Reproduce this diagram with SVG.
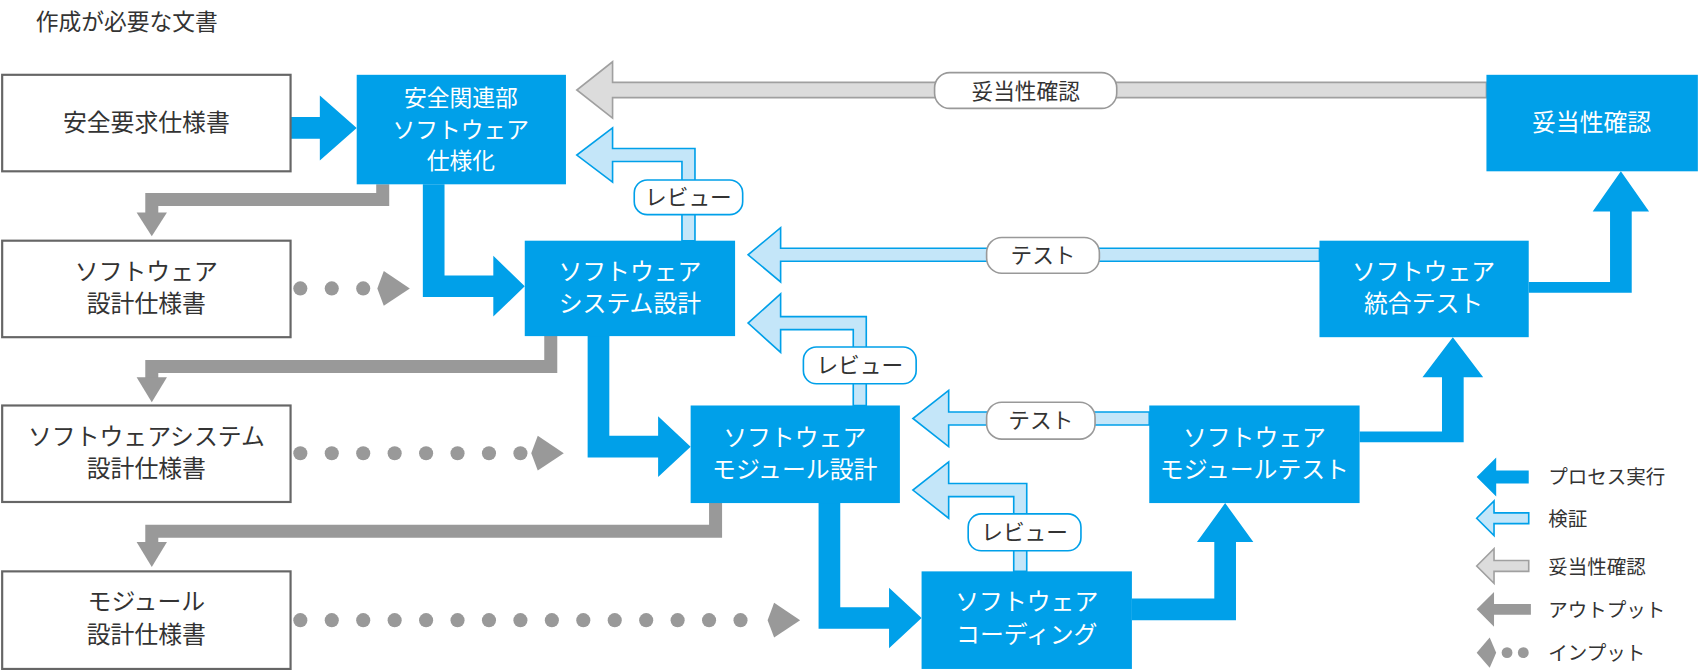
<svg xmlns="http://www.w3.org/2000/svg" width="1700" height="670" viewBox="0 0 1700 670">
<style>
text{font-family:"Noto Sans CJK JP","Noto Sans",sans-serif;text-anchor:middle}
.doc{fill:#fff;stroke:#666;stroke-width:2}
.dt{fill:#333;font-size:22px}
.pr{fill:#00A0E9}
.pt{fill:#fff;font-size:22px}
.proc{fill:#00A0E9}
.ver{fill:#C4E6F9;stroke:#00A0E9;stroke-width:1.5}
.val{fill:#DCDCDC;stroke:#A0A0A0;stroke-width:1.5}
.out{fill:none;stroke:#999;stroke-width:12}
.oh{fill:#999}
.lb{fill:#fff;stroke-width:1.5}
.lt{fill:#333;font-size:20px}
.lg{fill:#333;font-size:18px;text-anchor:start}
</style>
<rect width="1700" height="670" fill="#fff"/>
<g transform="scale(1.0842)">
<text x="33" y="28" style="text-anchor:start;font-size:21px;fill:#333">作成が必要な文書</text>
<g id="connectors">
<polygon class="proc" points="268,108 295,108 295,88 329,118 295,148 295,128 268,128"/>
<polygon class="proc" points="390,170 410,170 410,254 455,254 455,236 484,264 455,292 455,274 390,274"/>
<polygon class="proc" points="542,310 562,310 562,402 607,402 607,384 637,412 607,440 607,422 542,422"/>
<polygon class="proc" points="755,464 775,464 775,560 820,560 820,542 850,570 820,598 820,580 755,580"/>
<polygon class="proc" points="1044,552 1120,552 1120,500 1104,500 1130,464 1156,500 1140,500 1140,572 1044,572"/>
<polygon class="proc" points="1254,398 1330,398 1330,348 1312,348 1340,311 1368,348 1350,348 1350,408 1254,408"/>
<polygon class="proc" points="1410,260 1485,260 1485,195 1469,195 1495,158 1521,195 1505,195 1505,270 1410,270"/>
<polyline class="out" points="353,170 353,184 140,184 140,198"/><polygon class="oh" points="126,196 154,196 140,218"/>
<polyline class="out" points="508,310 508,338 140,338 140,350"/><polygon class="oh" points="126,348 154,348 140,371"/>
<polyline class="out" points="660,464 660,490 140,490 140,502"/><polygon class="oh" points="126,500 154,500 140,523"/>
<g class="oh">
<circle cx="277" cy="266" r="6.5"/><circle cx="306" cy="266" r="6.5"/><circle cx="335" cy="266" r="6.5"/><polygon points="354,250 378,266 354,282 348,266"/>
<circle cx="277" cy="418" r="6.5"/><circle cx="306" cy="418" r="6.5"/><circle cx="335" cy="418" r="6.5"/><circle cx="364" cy="418" r="6.5"/><circle cx="393" cy="418" r="6.5"/><circle cx="422" cy="418" r="6.5"/><circle cx="451" cy="418" r="6.5"/><circle cx="480" cy="418" r="6.5"/><polygon points="496,402 520,418 496,434 490,418"/>
<circle cx="277" cy="572" r="6.5"/><circle cx="306" cy="572" r="6.5"/><circle cx="335" cy="572" r="6.5"/><circle cx="364" cy="572" r="6.5"/><circle cx="393" cy="572" r="6.5"/><circle cx="422" cy="572" r="6.5"/><circle cx="451" cy="572" r="6.5"/><circle cx="480" cy="572" r="6.5"/><circle cx="509" cy="572" r="6.5"/><circle cx="538" cy="572" r="6.5"/><circle cx="567" cy="572" r="6.5"/><circle cx="596" cy="572" r="6.5"/><circle cx="625" cy="572" r="6.5"/><circle cx="654" cy="572" r="6.5"/><circle cx="683" cy="572" r="6.5"/><polygon points="714,556 738,572 714,588 708,572"/>
</g>
<polygon class="val" points="1371,76 565,76 565,57 532,83 565,109 565,90 1371,90"/>
<polygon class="ver" points="629,222 629,149 565,149 565,168 532,143 565,118 565,137 641,137 641,222"/>
<polygon class="ver" points="787,374 787,304 720,304 720,325 690,298 720,271 720,292 799,292 799,374"/>
<polygon class="ver" points="935,527 935,458 875,458 875,478 842,452 875,426 875,446 947,446 947,527"/>
<polygon class="ver" points="1217,229 720,229 720,210 690,235 720,260 720,241 1217,241"/>
<polygon class="ver" points="1060,380 875,380 875,360 842,386 875,412 875,392 1060,392"/>
<rect class="lb" x="862" y="67" width="168" height="33" rx="14" stroke="#999"/><text class="lt" x="946" y="91">妥当性確認</text>
<rect class="lb" x="585" y="166" width="100" height="32" rx="12" stroke="#00A0E9"/><text class="lt" x="635" y="189">レビュー</text>
<rect class="lb" x="741" y="320" width="104" height="34" rx="12" stroke="#00A0E9"/><text class="lt" x="793" y="344">レビュー</text>
<rect class="lb" x="893" y="474" width="104" height="34" rx="12" stroke="#00A0E9"/><text class="lt" x="945" y="498">レビュー</text>
<rect class="lb" x="910" y="219" width="104" height="33" rx="14" stroke="#999"/><text class="lt" x="962" y="243">テスト</text>
<rect class="lb" x="910" y="371" width="100" height="34" rx="14" stroke="#999"/><text class="lt" x="960" y="395">テスト</text>
</g>
<g id="doc1"><rect class="doc" x="2" y="69" width="266" height="89"/><text class="dt" x="135" y="121">安全要求仕様書</text></g>
<g id="doc2"><rect class="doc" x="2" y="222" width="266" height="89"/><text class="dt" x="135" y="258">ソフトウェア</text><text class="dt" x="135" y="288">設計仕様書</text></g>
<g id="doc3"><rect class="doc" x="2" y="374" width="266" height="89"/><text class="dt" x="135" y="410">ソフトウェアシステム</text><text class="dt" x="135" y="440">設計仕様書</text></g>
<g id="doc4"><rect class="doc" x="2" y="527" width="266" height="90"/><text class="dt" x="135" y="563">モジュール</text><text class="dt" x="135" y="593">設計仕様書</text></g>
<g id="p1"><rect class="pr" x="329" y="69" width="193" height="101"/><text class="pt" x="425" y="98" style="font-size:21px">安全関連部</text><text class="pt" x="425" y="127" style="font-size:21px">ソフトウェア</text><text class="pt" x="425" y="156" style="font-size:21px">仕様化</text></g>
<g id="p2"><rect class="pr" x="484" y="222" width="194" height="88"/><text class="pt" x="581" y="258">ソフトウェア</text><text class="pt" x="581" y="288">システム設計</text></g>
<g id="p3"><rect class="pr" x="637" y="374" width="193" height="90"/><text class="pt" x="733" y="411">ソフトウェア</text><text class="pt" x="733" y="441">モジュール設計</text></g>
<g id="p4"><rect class="pr" x="850" y="527" width="194" height="90"/><text class="pt" x="947" y="563">ソフトウェア</text><text class="pt" x="947" y="593">コーディング</text></g>
<g id="p5"><rect class="pr" x="1060" y="374" width="194" height="90"/><text class="pt" x="1157" y="411">ソフトウェア</text><text class="pt" x="1157" y="441">モジュールテスト</text></g>
<g id="p6"><rect class="pr" x="1217" y="222" width="193" height="89"/><text class="pt" x="1313" y="258">ソフトウェア</text><text class="pt" x="1313" y="288">統合テスト</text></g>
<g id="p7"><rect class="pr" x="1371" y="69" width="195" height="89"/><text class="pt" x="1468" y="121">妥当性確認</text></g>
<g id="legend">
<polygon class="proc" points="1362,440 1380,422 1380,434 1410,434 1410,446 1380,446 1380,458"/><text class="lg" x="1428" y="446">プロセス実行</text>
<polygon class="ver" points="1362,478 1378,462 1378,473 1410,473 1410,483 1378,483 1378,494"/><text class="lg" x="1428" y="485">検証</text>
<polygon class="val" points="1362,522 1378,506 1378,517 1410,517 1410,527 1378,527 1378,538"/><text class="lg" x="1428" y="529">妥当性確認</text>
<polygon class="oh" points="1362,562 1378,546 1378,557 1412,557 1412,567 1378,567 1378,578"/><text class="lg" x="1428" y="569">アウトプット</text>
<polygon class="oh" points="1362,602 1374,588 1380,602 1374,616"/><circle class="oh" cx="1390" cy="602" r="5"/><circle class="oh" cx="1405" cy="602" r="5"/><text class="lg" x="1428" y="609">インプット</text>
</g>
</g>
</svg>
